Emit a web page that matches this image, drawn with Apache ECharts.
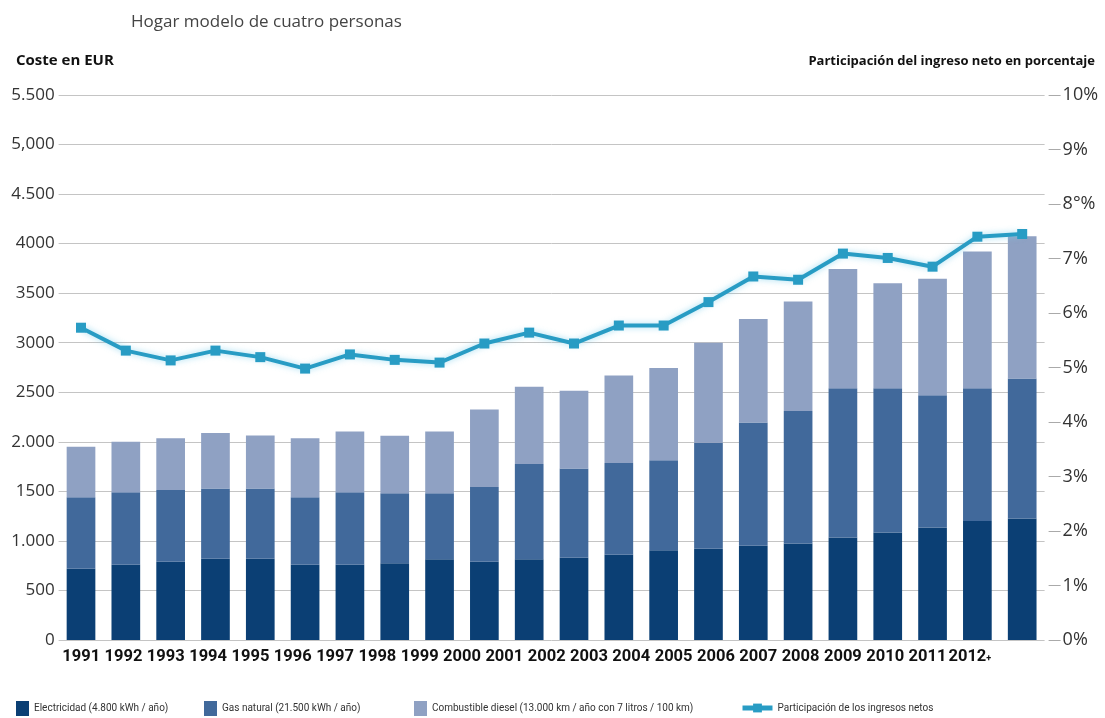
<!DOCTYPE html>
<html>
<head>
<meta charset="utf-8">
<script src="https://cdn.jsdelivr.net/npm/echarts@6/dist/echarts.min.js"></script>
<style>
  html, body { margin: 0; padding: 0; background: #ffffff; }
  #chart { width: 1105px; height: 718px; }
</style>
</head>
<body>
<div id="chart"></div>
<script>
// Years shown on the horizontal axis
const years = ['1991','1992','1993','1994','1995','1996','1997','1998','1999','2000','2001',
               '2002','2003','2004','2005','2006','2007','2008','2009','2010','2011','2012'];

// Annual cost per energy source, EUR (stacked segments)
const electricidad = [720, 760, 790, 820, 820, 760, 760, 775, 815, 790, 815,
                      830, 860, 905, 920, 950, 975, 1035, 1085, 1135, 1200, 1225];
const gasNatural   = [720, 730, 725, 710, 710, 680, 730, 705, 665, 755, 960,
                      900, 925, 910, 1070, 1245, 1335, 1505, 1455, 1335, 1340, 1415];
const diesel       = [510, 510, 520, 560, 535, 595, 615, 580, 625, 780, 780,
                      785, 885, 930, 1010, 1045, 1105, 1205, 1060, 1175, 1380, 1435];

// Share of net income, percent
const participacion = [5.73, 5.31, 5.13, 5.31, 5.19, 4.98, 5.24, 5.14, 5.09, 5.44, 5.64,
                       5.44, 5.77, 5.77, 6.20, 6.67, 6.61, 7.09, 7.01, 6.85, 7.40, 7.45];

// Axis tick labels as printed
const leftTicks  = ['0','500','1.000','1500','2.000','2500','3000','3500','4000','4.500','5,000','5.500'];
const rightTicks = ['0%','1%','2%','3%','4%','5%','6%','7%','8°%','9%','10%'];
const yearLabels = ['1991','1992','1993','1994','1995','1996','1997','1998','1999','2000','2001',
                    '2002','2003','2004','2005','2006','2007','2008','2009','2010','2011','2012+'];

const names = {
  elec: 'Electricidad (4.800 kWh / año)',
  gas: 'Gas natural (21.500 kWh / año)',
  diesel: 'Combustible diesel (13.000 km / año con 7 litros / 100 km)',
  share: 'Participación de los ingresos netos'
};

const colors = { elec: '#0b3f74', gas: '#41699b', diesel: '#8fa1c3', share: '#289cc4' };
const FONT = "'Open Sans', 'Noto Sans', sans-serif";
const NARROW = "Roboto, 'Open Sans', sans-serif";

const legendText = { fontFamily: NARROW, fontSize: 10, color: '#333' };
const boxLegend = (left, name) => ({
  top: 696, left, itemWidth: 13, itemHeight: 15, icon: 'rect',
  textStyle: legendText, data: [name]
});

const chart = echarts.init(document.getElementById('chart'), null, { renderer: 'canvas' });

chart.setOption({
  animation: false,
  backgroundColor: '#ffffff',
  title: [
    { text: 'Hogar modelo de cuatro personas', left: 126, top: 9,
      textStyle: { fontFamily: FONT, fontSize: 17, fontWeight: 'normal', color: '#444' } },
    { text: 'Coste en EUR', left: 11, top: 48,
      textStyle: { fontFamily: FONT, fontSize: 15, fontWeight: 'bold', color: '#111' } },
    { text: 'Participación del ingreso neto en porcentaje', right: 5, top: 50,
      textStyle: { fontFamily: FONT, fontSize: 13, fontWeight: 'bold', color: '#111' } }
  ],
  legend: [
    boxLegend(11, names.elec),
    boxLegend(199, names.gas),
    boxLegend(409, names.diesel),
    { top: 698, left: 735, itemWidth: 30, itemHeight: 11,
      lineStyle: { width: 5, shadowBlur: 0 },
      textStyle: legendText, data: [names.share] }
  ],
  grid: [
    { left: 58.6, right: 60.4, top: 95, bottom: 78 },
    // row of year labels under the bars
    { left: 60, right: 114, top: 95, bottom: 78 }
  ],
  xAxis: [
    { type: 'category', gridIndex: 0, data: years,
      axisLine: { show: false }, axisTick: { show: false }, axisLabel: { show: false } },
    { type: 'category', gridIndex: 1, data: yearLabels,
      axisLine: { show: false }, axisTick: { show: false },
      axisLabel: {
        interval: 0, margin: 8, fontFamily: "Roboto, 'Open Sans', sans-serif",
        fontSize: 16.5, fontWeight: 'bold', color: '#111',
        formatter: v => v.endsWith('+') ? v.slice(0, -1) + '{p|+}' : v,
        rich: { p: { fontSize: 9, fontWeight: 'bold', color: '#111',
                     fontFamily: "Roboto, 'Open Sans', sans-serif", padding: [4, 0, 0, 0] } }
      } }
  ],
  yAxis: [
    { type: 'value', gridIndex: 0, min: 0, max: 5500, interval: 500,
      axisLine: { show: false }, axisTick: { show: false },
      splitLine: { lineStyle: { color: '#c4c4c4', width: 1 } },
      axisLabel: { margin: 4, fontFamily: FONT, fontSize: 17, color: '#333',
        formatter: v => leftTicks[Math.round(v / 500)] } },
    { type: 'value', gridIndex: 0, min: 0, max: 10, interval: 1, position: 'right', offset: 4,
      axisLine: { show: false }, splitLine: { show: false },
      axisTick: { show: true, length: 12, lineStyle: { color: '#aaa' } },
      axisLabel: { margin: 14, fontFamily: FONT, fontSize: 18, color: '#333',
        formatter: v => rightTicks[Math.round(v)] } },
    { type: 'value', gridIndex: 1, show: false, min: 0, max: 1 }
  ],
  series: [
    { name: names.elec, type: 'bar', stack: 'coste', barWidth: '64%', data: electricidad,
      itemStyle: { color: colors.elec } },
    { name: names.gas, type: 'bar', stack: 'coste', data: gasNatural,
      itemStyle: { color: colors.gas } },
    { name: names.diesel, type: 'bar', stack: 'coste', data: diesel,
      itemStyle: { color: colors.diesel } },
    { name: names.share, type: 'line', yAxisIndex: 1, data: participacion,
      symbol: 'rect', symbolSize: 10,
      itemStyle: { color: colors.share },
      lineStyle: { color: colors.share, width: 4, shadowColor: 'rgba(120,205,235,0.7)', shadowBlur: 6 },
      z: 5 }
  ]
});
</script>
</body>
</html>
